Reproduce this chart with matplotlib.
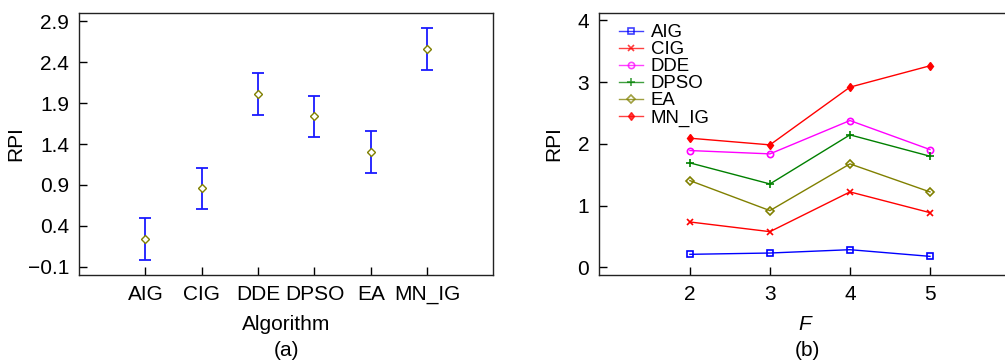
import matplotlib
matplotlib.use("Agg")
import matplotlib.pyplot as plt

plt.rcParams['font.family'] = ['Liberation Sans', 'DejaVu Sans']

# Panel (a)
algorithms = ["AIG", "CIG", "DDE", "DPSO", "EA", "MN_IG"]
means = [0.24, 0.857, 2.008, 1.736, 1.303, 2.559]
half_widths = [0.252, 0.255, 0.257, 0.255, 0.257, 0.256]
yticks_a = [-0.1, 0.4, 0.9, 1.4, 1.9, 2.4, 2.9]

# Panel (b)
F_values = [2, 3, 4, 5]
series_names = ["AIG", "CIG", "DDE", "DPSO", "EA", "MN_IG"]
AIG = [0.211, 0.232, 0.286, 0.178]
CIG = [0.735, 0.578, 1.222, 0.886]
DDE = [1.892, 1.838, 2.378, 1.908]
DPSO = [1.692, 1.351, 2.146, 1.800]
EA = [1.405, 0.919, 1.676, 1.222]
MN_IG = [2.092, 1.984, 2.919, 3.265]
yticks_b = [0, 1, 2, 3, 4]

fig = plt.figure(figsize=(10.05, 3.63), dpi=100)
W, H = 1005, 363

def ax_rect(l, t, r, b):
    return [l / W, 1 - b / H, (r - l) / W, (b - t) / H]

axa = fig.add_axes(ax_rect(79, 13, 493, 275))
axb = fig.add_axes(ax_rect(599, 13, 1010, 275))

fs_tick = 15
for ax in (axa, axb):
    for s in ax.spines.values():
        s.set_linewidth(1.0)
        s.set_color('#222222')
    ax.tick_params(direction='in', length=6, width=1, labelsize=fs_tick,
                   top=False, right=False, pad=7)

xpos = list(range(1, len(algorithms) + 1))
axa.errorbar(xpos, means, yerr=half_widths, fmt='none', ecolor='#1a1aff',
             elinewidth=1.3, capsize=4.5, capthick=1.3)
axa.plot(xpos, means, linestyle='none', marker='D', markersize=4.2,
         markerfacecolor='white', markeredgecolor='#808000', markeredgewidth=1.0)
axa.set_xlim(-0.18, 7.17)
axa.set_ylim(-0.2, 3.0)
axa.set_xticks(xpos)
axa.set_xticklabels(algorithms)
axa.set_yticks(yticks_a)
axa.set_yticklabels([("\u2212" + f"{abs(v):.1f}") if v < 0 else f"{v:.1f}" for v in yticks_a])
axa.set_xlabel("Algorithm", fontsize=15, labelpad=8)
axa.set_ylabel("RPI", fontsize=15, va='center')
axa.yaxis.set_label_coords((16 - 79) / 414, 0.5)

styles = [
    ("AIG", AIG, '#0000ff', 's', 4, True),
    ("CIG", CIG, '#ff0000', 'x', 5, False),
    ("DDE", DDE, '#ff00ff', 'o', 4.5, True),
    ("DPSO", DPSO, '#008000', '+', 6, False),
    ("EA", EA, '#808000', 'D', 4.0, True),
    ("MN_IG", MN_IG, '#ff0000', 'd', 4.5, False),
]
for name, vals, col, mk, ms, hollow in styles:
    kw = dict(color=col, marker=mk, markersize=ms, linewidth=1.0, label=name,
              markeredgewidth=1.2)
    if hollow:
        kw['markerfacecolor'] = 'none'
    if mk == 'd':
        kw['markeredgewidth'] = 1.0
    axb.plot(F_values, vals, **kw)

axb.set_xlim(0.864, 6.0)
axb.set_ylim(-0.124, 4.12)
axb.set_xticks(F_values)
axb.set_yticks(yticks_b)
axb.set_xlabel("F", fontsize=15, style='italic', labelpad=8)
axb.set_ylabel("RPI", fontsize=15, va='center')
axb.yaxis.set_label_coords((554 - 599) / 411, 0.5)
axb.spines['right'].set_visible(False)
leg = axb.legend(loc='upper left', bbox_to_anchor=(9 / 411, 1.0), frameon=False,
                 fontsize=13.4, handlelength=1.3, handletextpad=0.4,
                 labelspacing=0.0, borderaxespad=0.6, borderpad=0.0)
for h in leg.legend_handles:
    h.set_alpha(0.75)

fig.text(286 / W, 1 - 350 / H, "(a)", ha='center', va='center', fontsize=15)
fig.text(807 / W, 1 - 350 / H, "(b)", ha='center', va='center', fontsize=15)

fig.savefig("out.png", dpi=100)
